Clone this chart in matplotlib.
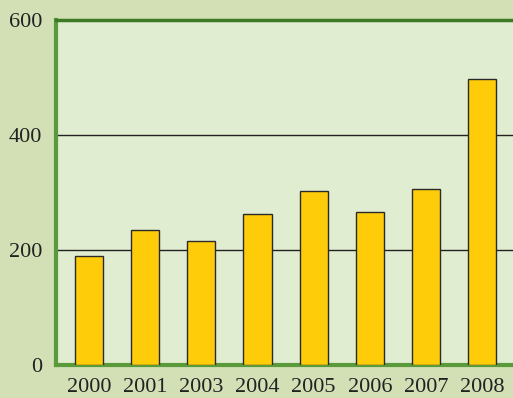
import matplotlib.pyplot as plt

years = ['2000', '2001', '2003', '2004', '2005', '2006', '2007', '2008']
values = [190, 235, 216, 263, 303, 266, 306, 497]
yticks = [0, 200, 400, 600]

outer_bg = '#d3e0b6'
inner_bg = '#e1edd0'
bar_color = '#ffcc0a'
border = '#5a9a3a'

plt.rcParams['font.family'] = 'Liberation Serif'

fig = plt.figure(figsize=(5.13, 3.98), dpi=100, facecolor=outer_bg)
ax = fig.add_axes([56 / 513, 1 - 365 / 398, 457 / 513, 345 / 398])
ax.set_facecolor(inner_bg)

x = list(range(len(years)))
ax.bar(x, values, width=0.5, color=bar_color, edgecolor='#2a2a2a',
       linewidth=1.0, zorder=3)

ax.set_ylim(0, 600)
ax.set_xlim(-0.585, 7.545)
ax.set_yticks(yticks)
ax.set_yticklabels([str(v) for v in yticks])
ax.set_xticks(x)
ax.set_xticklabels(years)
ax.tick_params(length=0, labelsize=16, colors='#222222')
ax.tick_params(axis='y', pad=10)
ax.tick_params(axis='x', pad=9)

for v in [200, 400]:
    ax.axhline(v, color='#222222', linewidth=1.0, zorder=1)

ax.spines['right'].set_visible(False)
ax.spines['left'].set_color(border)
ax.spines['left'].set_linewidth(3)
ax.spines['bottom'].set_color(border)
ax.spines['bottom'].set_linewidth(3)
ax.spines['top'].set_color('#3d7a25')
ax.spines['top'].set_linewidth(2.5)

fig.savefig('out.png', dpi=100, facecolor=outer_bg)
